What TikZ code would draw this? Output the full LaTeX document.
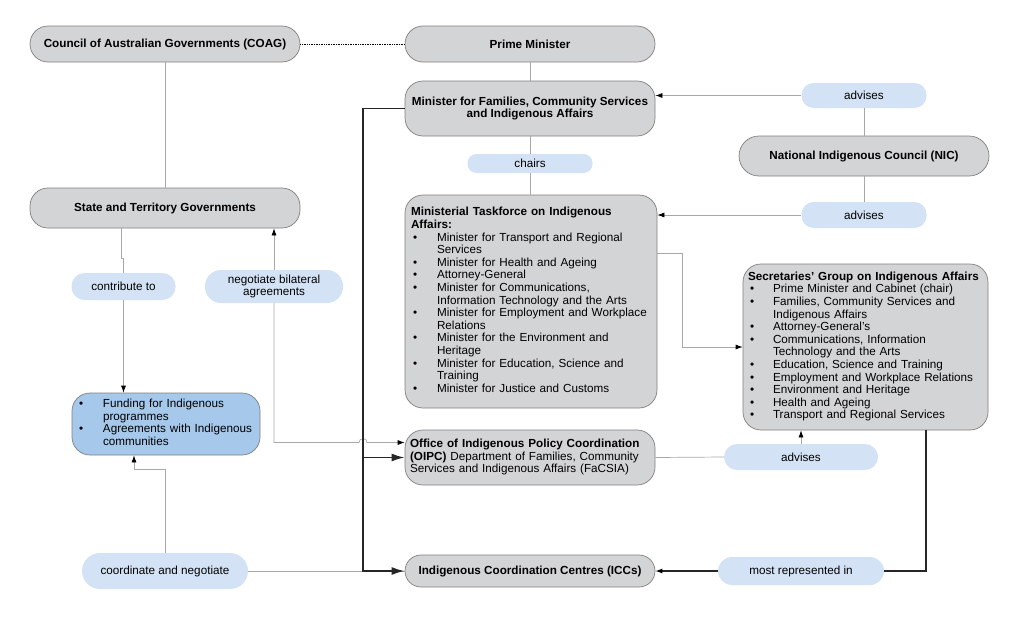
\documentclass[tikz,border=0pt]{standalone}
\usepackage{fontspec}
\setmainfont{Liberation Sans}
\usetikzlibrary{arrows.meta}
\definecolor{boxgray}{HTML}{D3D4D6}
\definecolor{boxline}{HTML}{7F7F7F}
\definecolor{pillblue}{HTML}{D3E3F5}
\definecolor{fundblue}{HTML}{A5C8EB}
\definecolor{linegray}{HTML}{A8A8A8}
\newcommand\fs{\fontsize{11.7}{12.6}\selectfont}
\newcommand\bl{\hspace*{2pt}\textbullet}
\begin{document}
\begin{tikzpicture}[x=1pt,y=-1pt,
  font=\fs,
  gbox/.style={draw=boxline, fill=boxgray, line width=0.7pt, inner sep=0pt},
  pill/.style={fill=pillblue, inner sep=0pt, rounded corners=#1},
  pill/.default=12pt,
  conn/.style={draw=linegray, line width=0.7pt},
  tip/.style={-{Latex[length=7pt,width=5pt,color=black]}},
  bigtip/.style={-{Latex[length=13pt,width=8pt]}},
  thickline/.style={draw=black!85, line width=1.8pt}
]
\useasboundingbox (0,0) rectangle (1019,616);

% nodes
\node[gbox, rounded corners=18pt, minimum width=270pt, minimum height=36pt, font=\fs\bfseries] (coag) at (165,44) {Council of Australian Governments (COAG)};
\node[gbox, rounded corners=18pt, minimum width=250pt, minimum height=36pt, font=\fs\bfseries] (pm) at (530,44) {Prime Minister};
\node[gbox, rounded corners=18pt, minimum width=250pt, minimum height=55pt, font=\fs\bfseries, align=center] (minfam) at (530,108.5) {Minister for Families, Community Services\\and Indigenous Affairs};
\node[pill, minimum width=125pt, minimum height=25pt] (adv1) at (864,95.5) {advises};
\node[gbox, rounded corners=20pt, minimum width=250pt, minimum height=40pt, font=\fs\bfseries] (nic) at (864,156) {National Indigenous Council (NIC)};
\node[pill=9pt, minimum width=125pt, minimum height=19pt] (chairs) at (530,163.5) {chairs};
\node[pill, minimum width=125pt, minimum height=26pt] (adv2) at (864,215) {advises};

\node[gbox, rounded corners=18pt, minimum width=252pt, minimum height=213pt, text width=240pt, align=left] (task) at (531,301.5) {%
\begin{tabular}{@{}p{26pt}@{}l@{}}
\multicolumn{2}{@{}l@{}}{\bfseries Ministerial Taskforce on Indigenous}\\
\multicolumn{2}{@{}l@{}}{\bfseries Affairs:}\\
\bl & Minister for Transport and Regional\\
 & Services\\
\bl & Minister for Health and Ageing\\
\bl & Attorney-General\\
\bl & Minister for Communications,\\
 & Information Technology and the Arts\\
\bl & Minister for Employment and Workplace\\
 & Relations\\
\bl & Minister for the Environment and\\
 & Heritage\\
\bl & Minister for Education, Science and\\
 & Training\\
\bl & Minister for Justice and Customs
\end{tabular}};

\node[gbox, rounded corners=18pt, minimum width=245pt, minimum height=166pt, text width=235pt, align=left] (sec) at (865.5,347) {%
\begin{tabular}{@{}p{25pt}@{}l@{}}
\multicolumn{2}{@{}l@{}}{\bfseries Secretaries' Group on Indigenous Affairs}\\
\bl & Prime Minister and Cabinet (chair)\\
\bl & Families, Community Services and\\
 & Indigenous Affairs\\
\bl & Attorney-General's\\
\bl & Communications, Information\\
 & Technology and the Arts\\
\bl & Education, Science and Training\\
\bl & Employment and Workplace Relations\\
\bl & Environment and Heritage\\
\bl & Health and Ageing\\
\bl & Transport and Regional Services
\end{tabular}};

\node[gbox, rounded corners=18pt, minimum width=270pt, minimum height=40pt, font=\fs\bfseries] (state) at (165,208) {State and Territory Governments};
\node[pill=13pt, minimum width=104pt, minimum height=27pt] (contrib) at (123.5,286.5) {contribute to};
\node[pill=16pt, minimum width=138pt, minimum height=33pt, align=center] (neg) at (274,286.5) {negotiate bilateral\\agreements};

\node[gbox, fill=fundblue, rounded corners=18pt, minimum width=188pt, minimum height=62pt, text width=178pt, align=left] (fund) at (166,424) {%
\begin{tabular}{@{}p{26pt}@{}l@{}}
\bl & Funding for Indigenous\\
 & programmes\\
\bl & Agreements with Indigenous\\
 & communities
\end{tabular}};

\node[gbox, rounded corners=18pt, minimum width=250pt, minimum height=55pt, text width=240pt, align=left] (oipc) at (530,457.5) {%
\begin{tabular}{@{}l@{}}
\bfseries Office of Indigenous Policy Coordination\\
\textbf{(OIPC)} Department of Families, Community\\
Services and Indigenous Affairs (FaCSIA)
\end{tabular}};
\node[pill=13pt, minimum width=154pt, minimum height=26pt] (adv3) at (801,457) {advises};

\node[gbox, rounded corners=16pt, minimum width=250pt, minimum height=32pt, font=\fs\bfseries] (icc) at (530,571) {Indigenous Coordination Centres (ICCs)};
\node[pill=14pt, minimum width=166pt, minimum height=28pt] (most) at (801,571) {most represented in};
\node[pill=18pt, minimum width=166pt, minimum height=36pt] (coord) at (165,571) {coordinate and negotiate};

% connectors
\draw[black, line width=0.7pt, densely dotted] (coag.east) -- (pm.west);
\draw[conn] (coag.south) -- (state.north);
\draw[conn] (pm.south) -- (minfam.north);
\draw[conn] (minfam.south) -- (chairs.north);
\draw[conn] (chairs.south) -- (task.north -| chairs.south);
\draw[conn, tip] (adv1.west) -- (adv1.west -| minfam.east);
\draw[conn] (adv1.south) -- (nic.north);
\draw[conn] (nic.south) -- (adv2.north);
\draw[conn, tip] (adv2.west) -- (adv2.west -| task.east);
\draw[conn, tip] ([yshift=48.5pt]task.east) -- ++(25,0) |- (sec.west);
\draw[conn] (oipc.east) -- (adv3.west);
\draw[conn, tip] (adv3.north) -- (adv3.north |- sec.south);
\draw[black!85, line width=1.1pt] ([xshift=60.5pt]sec.south) |- (most.east);
\draw[black!85, line width=1.1pt, tip] (most.west) -- (icc.east);

\draw[conn] ([xshift=-44pt]state.south) -- ++(0,30) -- ++(2.5,0) -- (contrib.north);
\draw[conn, tip] (contrib.south) -- (contrib.south |- fund.north);
\draw[conn, tip] (neg.north) -- (neg.north |- state.south);
\draw[conn, tip] (neg.south) |- (359,442.5) arc[start angle=180, end angle=360, radius=4] -- ([yshift=15pt]oipc.west);
\draw[conn, tip] (coord.north) -- ++(0,-83) -| ([xshift=-32pt]fund.south);
\draw[conn] (coord.east) -- (icc.west);

\coordinate (jx) at (363,108.5);
\draw[thickline, bigtip] (minfam.west) -- (jx) |- (icc.west);
\draw[thickline, bigtip] (oipc.west -| jx) -- (oipc.west);
\end{tikzpicture}
\end{document}
